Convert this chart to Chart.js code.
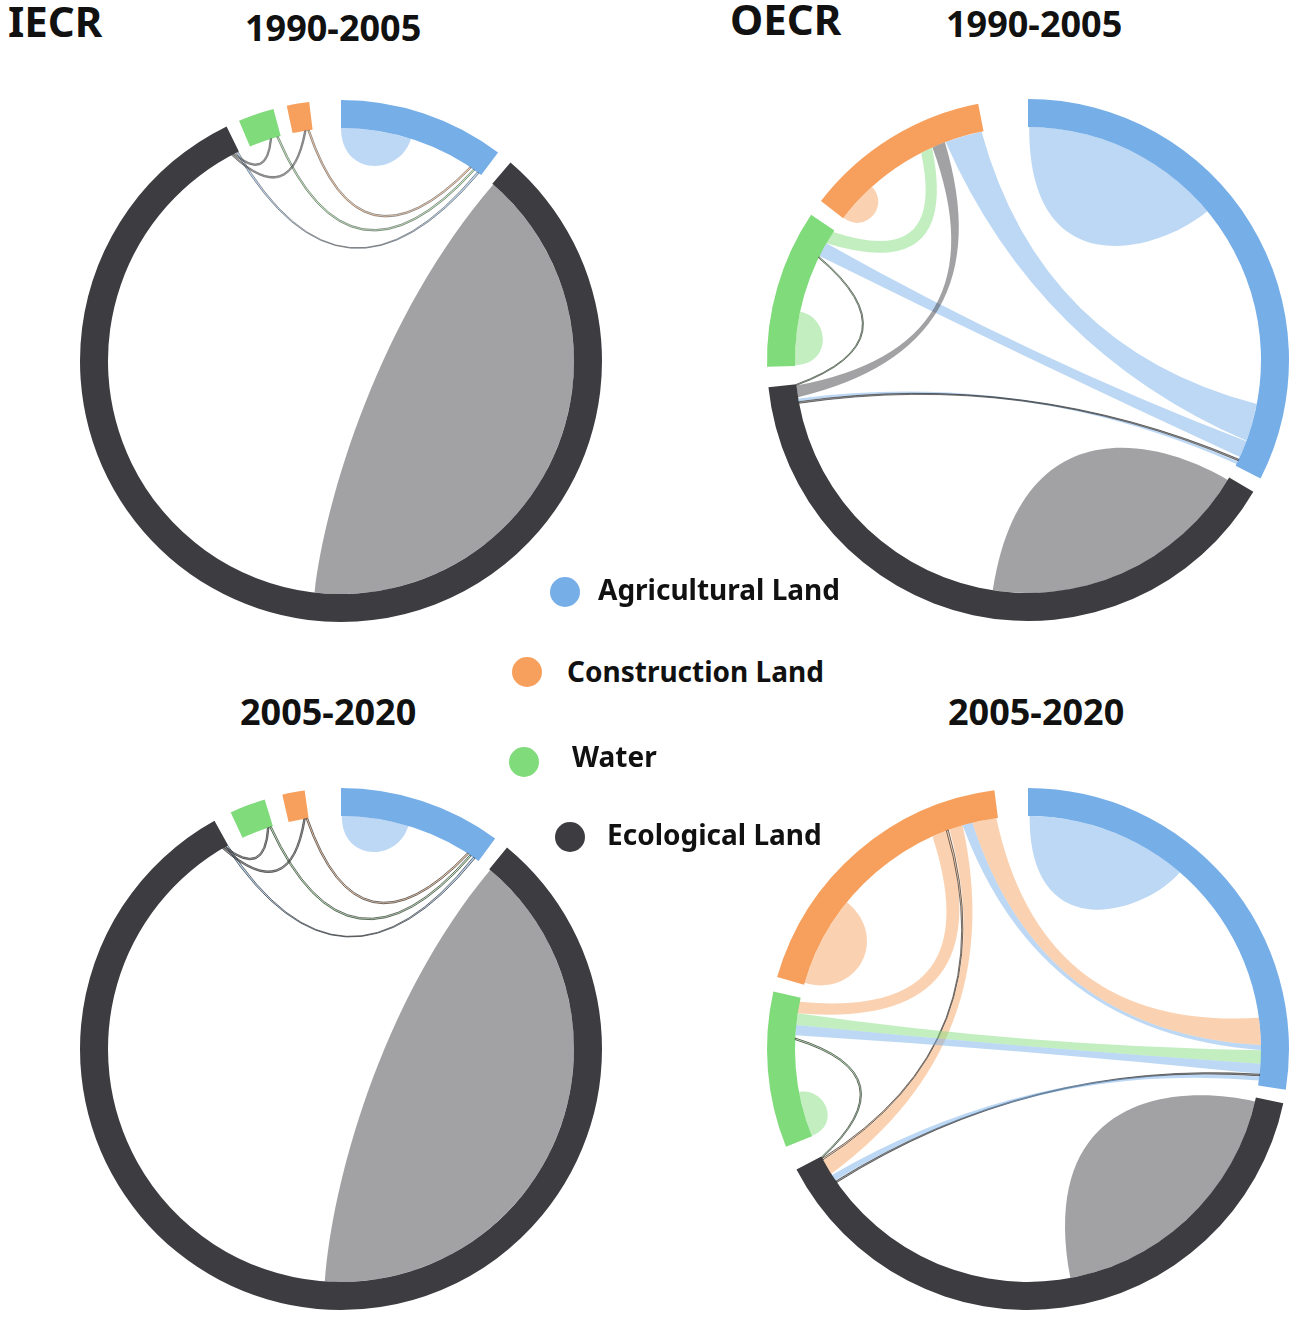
<!DOCTYPE html>
<html><head><meta charset="utf-8">
<script src="https://cdn.jsdelivr.net/npm/chart.js@4.4.1/dist/chart.umd.min.js"></script>
<style>
html,body{margin:0;padding:0;background:#fff;}
body{width:1299px;height:1320px;position:relative;overflow:hidden;font-family:'Noto Sans','Open Sans',sans-serif;}
canvas{position:absolute;}
.t{position:absolute;font-weight:700;color:#111;white-space:nowrap;line-height:1;z-index:5;}
.lg{position:absolute;font-weight:700;font-size:28px;color:#111;white-space:nowrap;line-height:1;z-index:5;}
.dot{position:absolute;width:30px;height:30px;border-radius:50%;z-index:5;}
</style></head><body>

<div class="t" style="left:8px;top:0px;font-size:42px;">IECR</div>
<div class="t" style="left:245px;top:10px;font-size:36px;">1990-2005</div>
<div class="t" style="left:730px;top:-2px;font-size:42px;">OECR</div>
<div class="t" style="left:946px;top:6px;font-size:36px;">1990-2005</div>
<div class="t" style="left:240px;top:694px;font-size:36px;">2005-2020</div>
<div class="t" style="left:948px;top:694px;font-size:36px;">2005-2020</div>

<div id="legend"></div>

<canvas id="c1" width="540" height="540" style="left:71px;top:91px;"></canvas>
<canvas id="c2" width="540" height="540" style="left:758px;top:90px;"></canvas>
<canvas id="c3" width="540" height="540" style="left:71px;top:779px;"></canvas>
<canvas id="c4" width="540" height="540" style="left:758px;top:779px;"></canvas>

<script>
// ---------- DATA ----------
// Ring order (clockwise from 12 o'clock)
const categories = ['Agricultural Land', 'Ecological Land', 'Water', 'Construction Land'];
const codes = ['A', 'E', 'W', 'C'];
// Legend order
const legendLabels = ['Agricultural Land', 'Construction Land', 'Water', 'Ecological Land'];
const legendCodes = ['A', 'C', 'W', 'E'];

// Sector sizes (ring order A, E, W, C)
const iecr9005Sizes = [37, 293.5, 8, 5];
const oecr9005Sizes = [117, 143.7, 35.3, 41.5];
const iecr0520Sizes = [36.2, 291.5, 8, 5];
const oecr0520Sizes = [99, 140.5, 34.7, 66.6];

// Links: [from, fromStart, fromEnd, to, toStart, toEnd] (positions inside each sector, sector units)
const iecr9005Links = [
  ['A', 0, 8.75, 'A', 8.75, 17.5],
  ['E', 0.3, 73.3, 'E', 73.3, 146],
  ['A', 35.8, 36.3, 'E', 292.8, 293.3],
  ['W', 7.0, 7.4, 'A', 34.6, 35.0],
  ['C', 3.8, 4.2, 'A', 33.6, 34.0],
  ['E', 292.0, 292.4, 'W', 5.3, 5.7],
  ['E', 291.5, 291.9, 'C', 3.0, 3.4]
];
const oecr9005Links = [
  ['A', 0.3, 25.3, 'A', 25.3, 50.3],
  ['E', 0.7, 34.6, 'E', 34.6, 68.4],
  ['W', 0.2, 6.8, 'W', 6.8, 13.5],
  ['C', 0.1, 5.3, 'C', 5.3, 10.5],
  ['A', 100.9, 110.3, 'C', 31.8, 41.0],
  ['A', 110.4, 114.6, 'W', 28.0, 31.6],
  ['W', 31.6, 34.8, 'C', 25.2, 28.2],
  ['E', 140.5, 143.4, 'C', 28.3, 31.6],
  ['A', 115.8, 116.5, 'E', 139.5, 140.2],
  ['E', 139.0, 139.4, 'A', 115.2, 115.6],
  ['W', 27.5, 27.8, 'E', 143.45, 143.7]
];
const iecr0520Links = [
  ['A', 0.2, 8.5, 'A', 8.5, 16.8],
  ['E', 0.3, 72.3, 'E', 72.3, 144.5],
  ['A', 34.6, 35.1, 'E', 290.9, 291.4],
  ['W', 7.2, 7.6, 'A', 33.6, 34.0],
  ['C', 4.4, 4.8, 'A', 32.8, 33.2],
  ['E', 290.4, 290.8, 'W', 6.6, 7.0],
  ['E', 289.9, 290.3, 'C', 3.8, 4.2]
];
const oecr0520Links = [
  ['A', 0.4, 20.5, 'A', 20.5, 40.7],
  ['E', 1, 34.7, 'E', 34.7, 67.5],
  ['W', 0.1, 5.7, 'W', 5.7, 11.4],
  ['C', 0.5, 11.7, 'C', 11.7, 23],
  ['C', 49.8, 53.5, 'W', 30.8, 33.7],
  ['C', 53.5, 54.0, 'E', 139.6, 140.0],
  ['C', 54.3, 57.7, 'E', 135.6, 139.5],
  ['A', 89, 90.3, 'C', 57.7, 60.2],
  ['C', 60.2, 66.2, 'A', 82.3, 89],
  ['W', 27.9, 30.8, 'A', 90.3, 93.6],
  ['A', 93.6, 96.1, 'W', 25.4, 27.9],
  ['W', 24.3, 24.7, 'E', 140.1, 140.4],
  ['E', 133.1, 133.5, 'A', 96.2, 96.6],
  ['A', 96.8, 97.8, 'E', 133.7, 135.3]
];

// ---------- LAYOUT / STYLE ----------
const sectorColors = { A: '#76AEE8', E: '#3C3C41', W: '#80DB7B', C: '#F7A05D' };
const CHORD_ALPHA = 0.48;
const THIN = 0.6;
const RING_INNER = 233;
const PAD = 9;
const panelGaps = {
  c1: [3.5, 3, 3, 7],
  c2: [3.3, 4.5, 3.7, 11],
  c3: [3.3, 4, 4, 8],
  c4: [3, 5.5, 3.3, 7.4]
};
// shape skew of self-link bubbles (style only)
const selfSkew = {
  c1: { A: 0.1, E: 0.3, W: 0, C: 0 },
  c2: { A: 0.4, E: -0.4, W: 0.1, C: 0 },
  c3: { A: 0.1, E: 0.3, W: 0, C: 0 },
  c4: { A: 0.4, E: -0.4, W: 0.1, C: 0 }
};
const lineColors = { c1: 'rgba(80,80,80,0.75)', c2: 'rgba(50,50,50,0.85)', c3: 'rgba(40,40,40,0.85)', c4: 'rgba(40,40,40,0.85)' };
const panels = [
  { id: 'c1', sizes: iecr9005Sizes, links: iecr9005Links },
  { id: 'c2', sizes: oecr9005Sizes, links: oecr9005Links },
  { id: 'c3', sizes: iecr0520Sizes, links: iecr0520Links },
  { id: 'c4', sizes: oecr0520Sizes, links: oecr0520Links }
];
const legendPos = [
  { dot: [565, 592], text: [598, 575] },
  { dot: [527, 672], text: [567, 657] },
  { dot: [524, 762], text: [572, 742] },
  { dot: [570, 837], text: [607, 820] }
];

function rgba(hex, a) {
  const n = parseInt(hex.slice(1), 16);
  return 'rgba(' + ((n >> 16) & 255) + ',' + ((n >> 8) & 255) + ',' + (n & 255) + ',' + a + ')';
}

function spanOf(t1, t2) {
  let span = Math.abs(t2 - t1) % (2 * Math.PI);
  if (span > Math.PI) span = 2 * Math.PI - span;
  return span;
}
function midDist(r, span) {
  const dis = 2 * r * Math.sin(span / 2);
  const chordMid = r * Math.cos(span / 2);
  const depth = Math.min(0.5 * dis, r - 0.57 * chordMid);
  return { dMid: r - depth, chordMid: chordMid };
}

function curveTo(ctx, cx, cy, r, t1, t2) {
  const px = r * Math.cos(t1), py = r * Math.sin(t1);
  const qx = r * Math.cos(t2), qy = r * Math.sin(t2);
  const span = spanOf(t1, t2);
  if (span < 1e-4) { ctx.lineTo(cx + qx, cy + qy); return; }
  let ux = px + qx, uy = py + qy;
  let len = Math.hypot(ux, uy);
  if (len < 1e-6) { ux = -(qy - py); uy = qx - px; len = Math.hypot(ux, uy); }
  ux /= len; uy /= len;
  const m = midDist(r, span);
  const cDist = 2 * m.dMid - m.chordMid;
  ctx.quadraticCurveTo(cx + ux * cDist, cy + uy * cDist, cx + qx, cy + qy);
}

// rounder cubic for self-link bubbles: from angle tEnd back to tStart
function bubbleTo(ctx, cx, cy, r, tEnd, tStart, skew) {
  const span = spanOf(tEnd, tStart);
  const m = midDist(r, span);
  const k = Math.max(0, (1 - m.dMid / m.chordMid)) * r / 0.75;
  const kEnd = k * (1 - skew), kStart = k * (1 + skew);
  const c1x = cx + (r - kEnd) * Math.cos(tEnd), c1y = cy + (r - kEnd) * Math.sin(tEnd);
  const c2x = cx + (r - kStart) * Math.cos(tStart), c2y = cy + (r - kStart) * Math.sin(tStart);
  ctx.bezierCurveTo(c1x, c1y, c2x, c2y, cx + r * Math.cos(tStart), cy + r * Math.sin(tStart));
}

function ribbonPath(ctx, cx, cy, r, a1, a2, b1, b2, self, skew) {
  ctx.beginPath();
  ctx.moveTo(cx + r * Math.cos(a1), cy + r * Math.sin(a1));
  ctx.arc(cx, cy, r, a1, a2, false);
  if (self && Math.abs(a2 - b1) < 1e-6) {
    ctx.arc(cx, cy, r, b1, b2, false);
    bubbleTo(ctx, cx, cy, r, b2, a1, skew);
  } else {
    curveTo(ctx, cx, cy, r, a2, b1);
    ctx.arc(cx, cy, r, b1, b2, false);
    curveTo(ctx, cx, cy, r, b2, a1);
  }
  ctx.closePath();
}

const chordPlugin = {
  id: 'chords',
  afterDatasetsDraw(chart, args, opts) {
    const meta = chart.getDatasetMeta(0);
    const arcs = {};
    codes.forEach((c, i) => {
      const el = meta.data[2 * i];
      const p = el.getProps(['x', 'y', 'startAngle', 'endAngle', 'innerRadius'], true);
      arcs[c] = { start: p.startAngle, unit: (p.endAngle - p.startAngle) / opts.sizes[i], x: p.x, y: p.y, r: p.innerRadius };
    });
    const ctx = chart.ctx;
    ctx.save();
    opts.links.forEach(l => {
      const [s, s0, s1, t, t0, t1] = l;
      const A = arcs[s], B = arcs[t];
      const a1 = A.start + s0 * A.unit, a2 = A.start + s1 * A.unit;
      const b1 = B.start + t0 * B.unit, b2 = B.start + t1 * B.unit;
      ribbonPath(ctx, A.x, A.y, A.r, a1, a2, b1, b2, s === t, opts.skew[s] || 0);
      ctx.fillStyle = rgba(sectorColors[s], CHORD_ALPHA);
      ctx.fill();
      if ((s1 - s0) < THIN && (t1 - t0) < THIN) {
        ctx.strokeStyle = opts.lineColor;
        ctx.lineWidth = 0.8;
        ctx.stroke();
      }
    });
    ctx.restore();
  }
};

panels.forEach(p => {
  const data = [], colors = [], labels = [];
  const gaps = panelGaps[p.id];
  p.sizes.forEach((v, i) => {
    data.push(v); colors.push(sectorColors[codes[i]]); labels.push(categories[i]);
    data.push(gaps[i]); colors.push('rgba(0,0,0,0)'); labels.push('');
  });
  new Chart(document.getElementById(p.id), {
    type: 'doughnut',
    data: { labels: labels, datasets: [{ data: data, backgroundColor: colors, borderWidth: 0, hoverOffset: 0 }] },
    options: {
      responsive: false, animation: false, events: [],
      cutout: RING_INNER,
      layout: { padding: PAD },
      plugins: {
        legend: { display: false }, tooltip: { enabled: false },
        chords: { links: p.links, sizes: p.sizes, skew: selfSkew[p.id], lineColor: lineColors[p.id] }
      }
    },
    plugins: [chordPlugin]
  });
});

// legend (HTML)
const lg = document.getElementById('legend');
legendLabels.forEach((lab, i) => {
  const d = document.createElement('div');
  d.className = 'dot';
  d.style.left = (legendPos[i].dot[0] - 15) + 'px';
  d.style.top = (legendPos[i].dot[1] - 15) + 'px';
  d.style.background = sectorColors[legendCodes[i]];
  lg.appendChild(d);
  const t = document.createElement('div');
  t.className = 'lg';
  t.style.left = legendPos[i].text[0] + 'px';
  t.style.top = legendPos[i].text[1] + 'px';
  t.textContent = lab;
  lg.appendChild(t);
});
</script>
</body></html>
